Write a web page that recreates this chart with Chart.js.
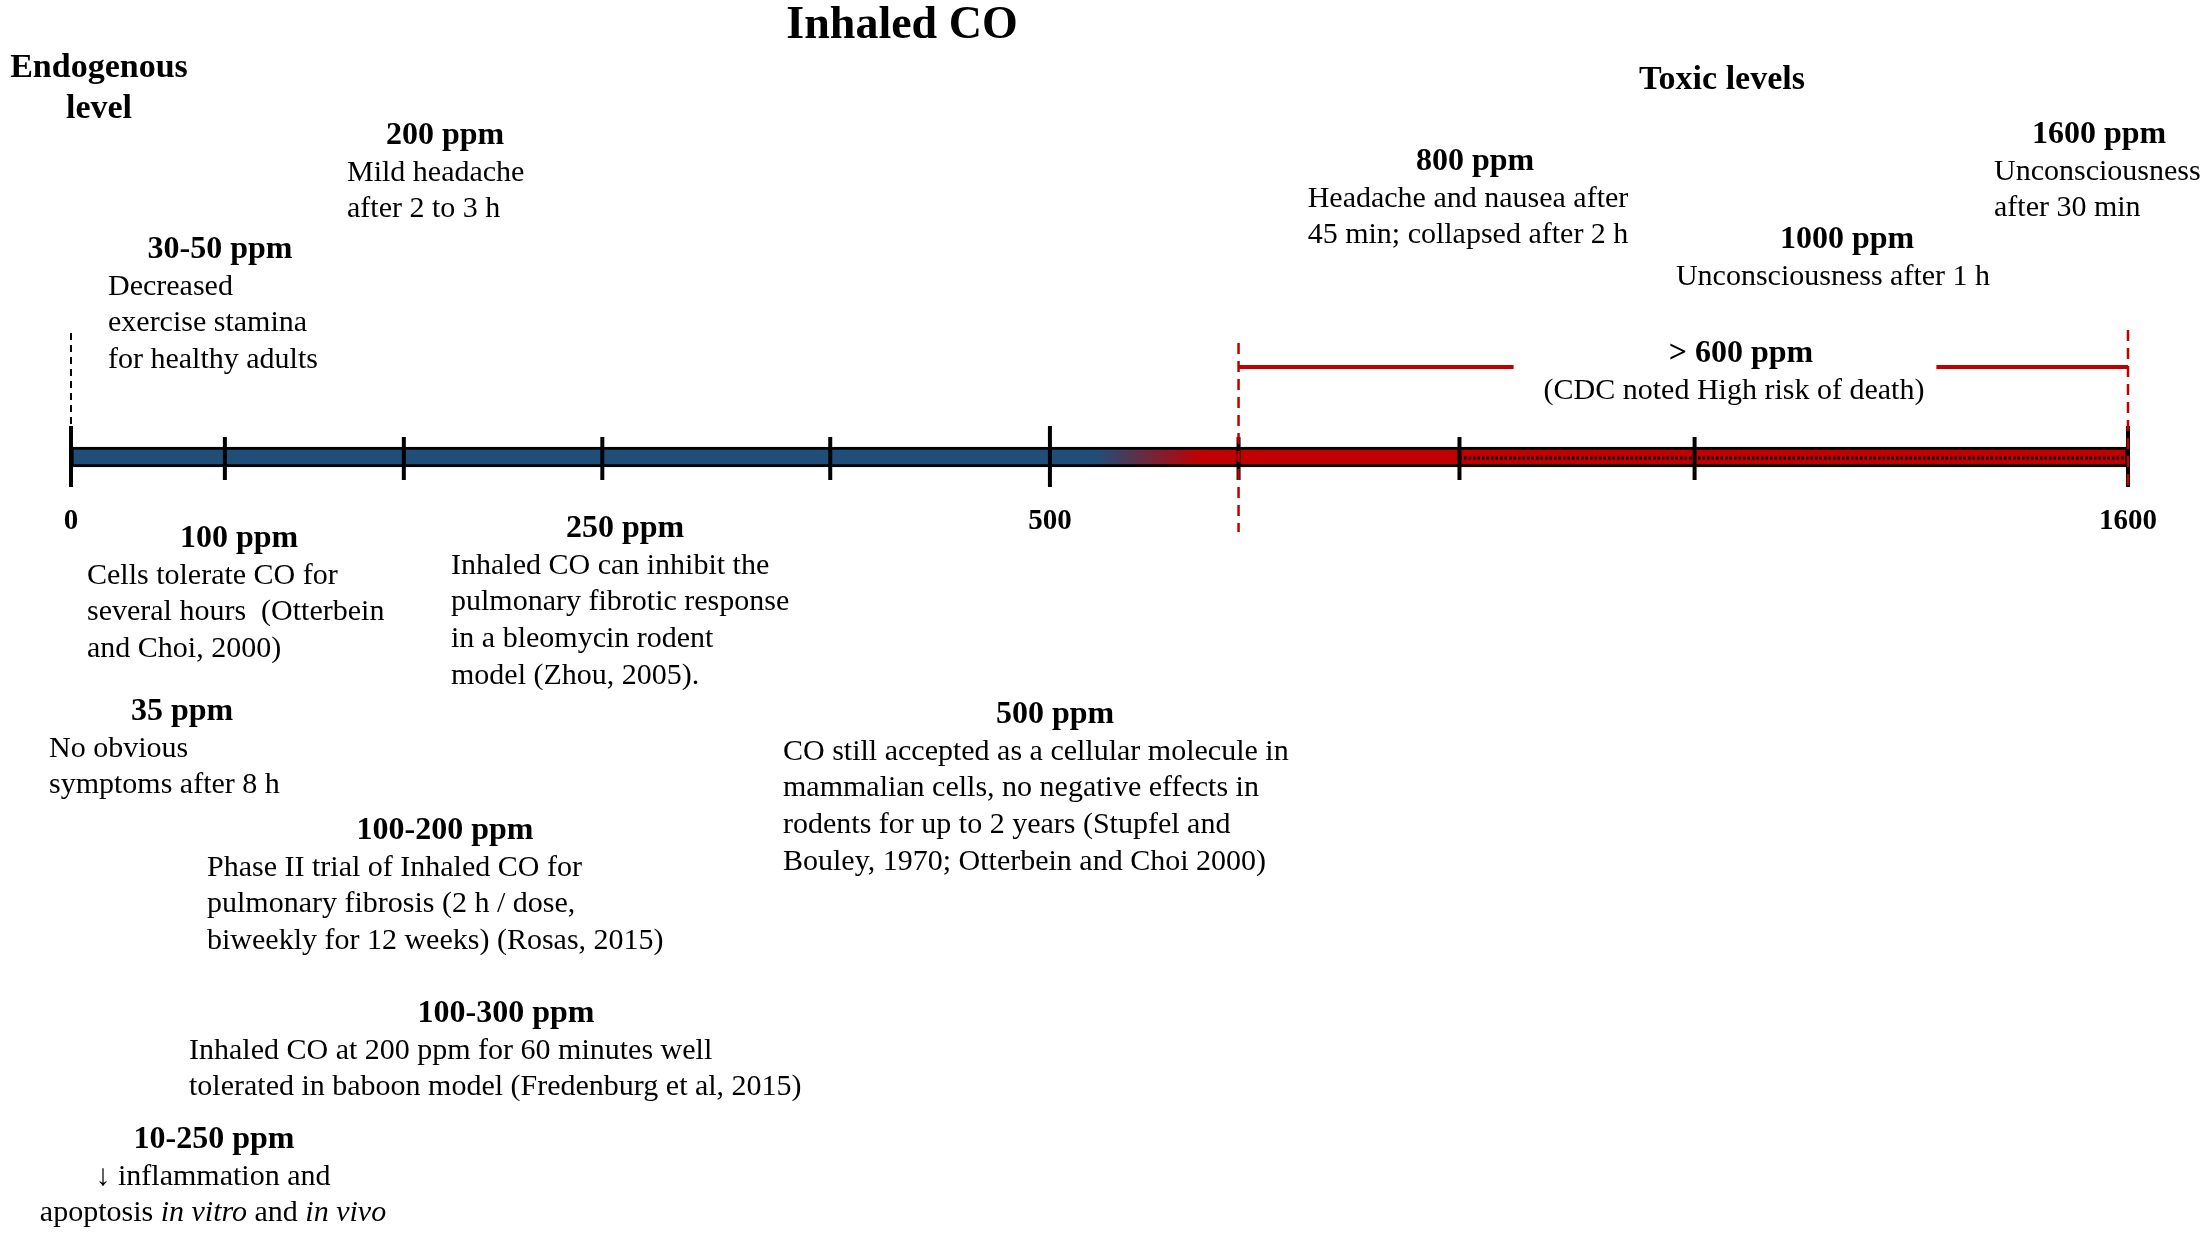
<!DOCTYPE html>
<html lang="en">
<head>
  <meta charset="UTF-8" />
  <title>Inhaled CO</title>
  <script src="https://cdn.jsdelivr.net/npm/chart.js@4"></script>
  <style>
    html, body { margin: 0; padding: 0; background: #fff; }
    .chart-box { width: 2204px; height: 1237px; position: relative; }
  </style>
</head>
<body>
  <div class="chart-box"><canvas id="coChart"></canvas></div>

  <script>
    // Axis ticks (ppm) and which ones carry a label
    const tickPpm = [0, 100, 200, 250, 400, 500, 600, 800, 1000, 1600];
    const tickLabels = ['0', '', '', '', '', '500', '', '', '', '1600'];

    // The bar itself, and the ranges marked on it
    const barRange = [0, 1600];
    const blendRange = [525, 580];   // blue fades to red here
    const toxicRange = [600, 1600];  // red dashed bracket
    const dottedRange = [800, 1600]; // dotted line inside the red part

    const chartTitle = 'Inhaled CO';
    const regionLabels = [['Endogenous', 'level'], ['Toxic levels']];

    const noteHeadings = ['200 ppm', '30-50 ppm', '35 ppm', '100 ppm', '250 ppm', '100-200 ppm',
      '100-300 ppm', '10-250 ppm', '500 ppm', '800 ppm', '1000 ppm', '1600 ppm', '> 600 ppm'];
    // *text* = italic
    const noteTexts = [
      ['Mild headache', 'after 2 to 3 h'],
      ['Decreased', 'exercise stamina', 'for healthy adults'],
      ['No obvious', 'symptoms after 8 h'],
      ['Cells tolerate CO for', 'several hours  (Otterbein', 'and Choi, 2000)'],
      ['Inhaled CO can inhibit the', 'pulmonary fibrotic response', 'in a bleomycin rodent', 'model (Zhou, 2005).'],
      ['Phase II trial of Inhaled CO for', 'pulmonary fibrosis (2 h / dose,', 'biweekly for 12 weeks) (Rosas, 2015)'],
      ['Inhaled CO at 200 ppm for 60 minutes well', 'tolerated in baboon model (Fredenburg et al, 2015)'],
      ['\u2193 inflammation and', 'apoptosis *in vitro* and *in vivo*'],
      ['CO still accepted as a cellular molecule in', 'mammalian cells, no negative effects in',
        'rodents for up to 2 years (Stupfel and', 'Bouley, 1970; Otterbein and Choi 2000)'],
      ['Headache and nausea after', '45 min; collapsed after 2 h'],
      ['Unconsciousness after 1 h'],
      ['Unconsciousness', 'after 30 min'],
      ['(CDC noted High risk of death)']
    ];

    const BLUE = '#1f4e79';
    const RED = '#c00000';
    const FONT = "'Liberation Serif', 'Times New Roman', serif";

    // The timeline is schematic, not to scale: share of the axis length at each tick
    const tickSpacing = [0, 0.0748, 0.1618, 0.2583, 0.3691, 0.4759, 0.5676, 0.675, 0.7893, 1];

    function ppmToDecimal(v) {
      if (v <= tickPpm[0]) return 0;
      for (let i = 1; i < tickPpm.length; i++) {
        if (v <= tickPpm[i]) {
          const t = (v - tickPpm[i - 1]) / (tickPpm[i] - tickPpm[i - 1]);
          return tickSpacing[i - 1] + t * (tickSpacing[i] - tickSpacing[i - 1]);
        }
      }
      return 1;
    }
    function decimalToPpm(d) {
      for (let i = 1; i < tickSpacing.length; i++) {
        if (d <= tickSpacing[i]) {
          const t = (d - tickSpacing[i - 1]) / (tickSpacing[i] - tickSpacing[i - 1]);
          return tickPpm[i - 1] + t * (tickPpm[i] - tickPpm[i - 1]);
        }
      }
      return tickPpm[tickPpm.length - 1];
    }

    class SchematicScale extends Chart.LinearScale {
      static id = 'schematic';
      static defaults = Chart.LinearScale.defaults;
      buildTicks() {
        return tickPpm.map(v => ({ value: v }));
      }
      getPixelForValue(value) {
        if (value === null || isNaN(value)) return NaN;
        return this.getPixelForDecimal(ppmToDecimal(value));
      }
      getValueForPixel(pixel) {
        return decimalToPpm(this.getDecimalForPixel(pixel));
      }
    }
    Chart.register(SchematicScale);

    // text with *italic* runs
    function drawRich(ctx, text, x, y, align, size, weight) {
      const parts = text.split('*');
      const fontFor = i => `${i % 2 ? 'italic ' : ''}${weight} ${size}px ${FONT}`;
      const widths = parts.map((p, i) => { ctx.font = fontFor(i); return ctx.measureText(p).width; });
      const total = widths.reduce((a, b) => a + b, 0);
      let cx = align === 'center' ? x - total / 2 : x;
      ctx.textAlign = 'left';
      ctx.textBaseline = 'middle';
      parts.forEach((p, i) => { ctx.font = fontFor(i); ctx.fillText(p, cx, y); cx += widths[i]; });
      return total;
    }

    // heading centre x, heading y, text x, text alignment
    const noteLayout = [
      [445, 136, 347, 'left'],
      [220, 250, 108, 'left'],
      [182, 712, 49, 'left'],
      [239, 539, 87, 'left'],
      [625, 529, 451, 'left'],
      [445, 831, 207, 'left'],
      [506, 1014, 189, 'left'],
      [214, 1140, 213, 'center'],
      [1055, 715, 783, 'left'],
      [1475, 162, 1468, 'center'],
      [1847, 240, 1833, 'center'],
      [2099, 135, 1994, 'left'],
      [1741, 354, 1734, 'center']
    ];

    const timelinePlugin = {
      id: 'timelineMarks',
      afterDatasetsDraw(chart) {
        const ctx = chart.ctx;
        const x = chart.scales.x;
        const yc = chart.scales.y.getPixelForValue(0);
        ctx.save();

        // dotted line in the red part
        ctx.strokeStyle = '#000';
        ctx.lineWidth = 3;
        ctx.setLineDash([2.5, 2]);
        ctx.beginPath();
        ctx.moveTo(x.getPixelForValue(dottedRange[0]), yc + 1);
        ctx.lineTo(x.getPixelForValue(dottedRange[1]), yc + 1);
        ctx.stroke();

        // tick marks across the bar
        ctx.setLineDash([]);
        ctx.lineWidth = 4;
        x.ticks.forEach((t, i) => {
          const px = x.getPixelForValue(t.value);
          const major = tickLabels[i] !== '';
          ctx.beginPath();
          ctx.moveTo(px, yc - (major ? 31 : 20));
          ctx.lineTo(px, yc + (major ? 30 : 23));
          ctx.stroke();
        });

        // endogenous level marker
        ctx.lineWidth = 2;
        ctx.setLineDash([7, 5]);
        ctx.beginPath();
        ctx.moveTo(x.getPixelForValue(barRange[0]), yc - 124);
        ctx.lineTo(x.getPixelForValue(barRange[0]), yc - 30);
        ctx.stroke();

        // toxic range bracket
        const x0 = x.getPixelForValue(toxicRange[0]);
        const x1 = x.getPixelForValue(toxicRange[1]);
        ctx.strokeStyle = RED;
        ctx.lineWidth = 2.5;
        ctx.setLineDash([11, 7]);
        ctx.beginPath();
        ctx.moveTo(x0, yc - 114);
        ctx.lineTo(x0, yc + 75);
        ctx.moveTo(x1, yc - 127);
        ctx.lineTo(x1, yc + 33);
        ctx.stroke();

        const cdc = noteLayout[12];
        ctx.font = `30px ${FONT}`;
        const half = ctx.measureText(noteTexts[12][0]).width / 2;
        ctx.setLineDash([]);
        ctx.lineWidth = 4;
        ctx.beginPath();
        ctx.moveTo(x0, yc - 90);
        ctx.lineTo(cdc[2] - half - 30, yc - 90);
        ctx.moveTo(cdc[2] + half + 12, yc - 90);
        ctx.lineTo(x1, yc - 90);
        ctx.stroke();
        ctx.restore();
      },
      afterDraw(chart) {
        const ctx = chart.ctx;
        ctx.save();
        ctx.fillStyle = '#000';
        drawRich(ctx, chartTitle, 902, 26, 'center', 46, 'bold');
        drawRich(ctx, regionLabels[0][0], 99, 68, 'center', 34, 'bold');
        drawRich(ctx, regionLabels[0][1], 99, 109, 'center', 34, 'bold');
        drawRich(ctx, regionLabels[1][0], 1722, 80, 'center', 34, 'bold');

        noteHeadings.forEach((head, i) => {
          const [hx, hy, lx, align] = noteLayout[i];
          drawRich(ctx, head, hx, hy, 'center', 32, 'bold');
          noteTexts[i].forEach((line, j) => {
            drawRich(ctx, line, lx, hy + 37 + j * 36.6, align, 30, 'normal');
          });
        });
        ctx.restore();
      }
    };

    new Chart(document.getElementById('coChart').getContext('2d'), {
      type: 'bar',
      data: {
        labels: [chartTitle],
        datasets: [{
          label: chartTitle,
          data: [barRange],
          backgroundColor: (c) => {
            const chart = c.chart;
            const x = chart.scales.x;
            if (!chart.chartArea || !x) return BLUE;
            const g = chart.ctx.createLinearGradient(
              x.getPixelForValue(blendRange[0]), 0, x.getPixelForValue(blendRange[1]), 0);
            g.addColorStop(0, BLUE);
            g.addColorStop(1, RED);
            return g;
          },
          borderColor: '#000',
          borderWidth: 3,
          borderSkipped: false,
          barThickness: 20
        }]
      },
      options: {
        indexAxis: 'y',
        responsive: true,
        maintainAspectRatio: false,
        devicePixelRatio: 1,
        animation: false,
        layout: { padding: { left: 71, right: 65, top: 0, bottom: 323 } },
        plugins: {
          legend: { display: false },
          title: { display: false },
          tooltip: { enabled: false }
        },
        scales: {
          x: {
            type: 'schematic',
            min: barRange[0],
            max: barRange[1],
            position: 'center',
            grid: { display: false, drawTicks: false },
            border: { display: false },
            ticks: {
              autoSkip: false,
              maxRotation: 0,
              padding: 47,
              color: '#000',
              font: { family: FONT, weight: 'bold', size: 29 },
              callback: (v, i) => tickLabels[i]
            }
          },
          y: { type: 'category', display: false }
        }
      },
      plugins: [timelinePlugin]
    });
  </script>
</body>
</html>
